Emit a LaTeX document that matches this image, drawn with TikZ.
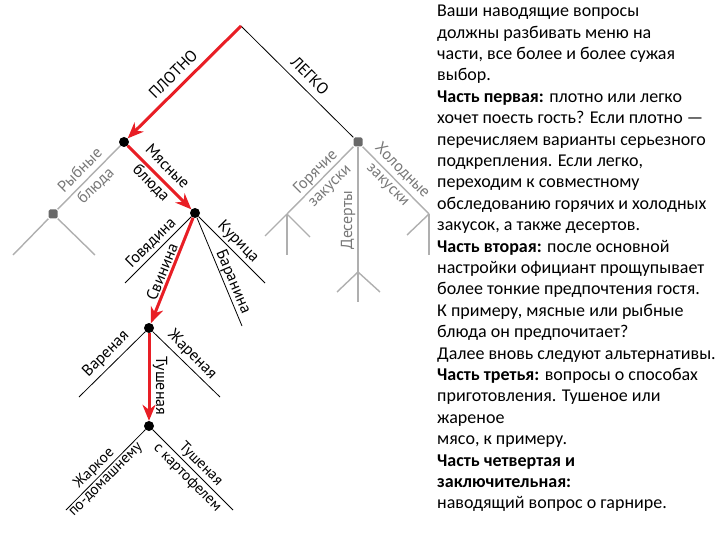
\documentclass[tikz,border=0pt]{standalone}
\usepackage{fontspec}
\setmainfont{Liberation Sans}
\newfontfamily\panelfont{Carlito}
\newfontfamily\labfont{PT Sans}
\usetikzlibrary{arrows.meta}
\definecolor{myred}{RGB}{232,30,37}
\definecolor{lgray}{RGB}{175,175,175}
\definecolor{tgray}{RGB}{120,120,120}
\definecolor{sqgray}{RGB}{105,105,105}
\begin{document}
\begin{tikzpicture}[x=1pt,y=-1pt,
  bdot/.style={circle,fill=black,inner sep=0pt,minimum size=10pt},
  gsq/.style={rectangle,fill=sqgray,inner sep=0pt,minimum size=9pt,rounded corners=1.5pt},
  redarr/.style={draw=myred,line width=3pt,-{Stealth[length=16pt,width=13pt,inset=5pt]}},
  bline/.style={draw=black,line width=0.8pt},
  gline/.style={draw=lgray,line width=1.4pt},
  lab/.style={font=\labfont\fontsize{16}{19}\selectfont,inner sep=0pt,align=center},
  glab/.style={lab,text=tgray},
]
\useasboundingbox (0,0) rectangle (720,540);

% nodes
\coordinate (apex) at (241,26);
\node[bdot] (n1) at (124,142) {};
\node[gsq] (lg) at (358,142) {};
\node[gsq] (fish) at (53,214) {};
\coordinate (fishL) at (13,255);
\coordinate (fishR) at (95,255);
\node[bdot] (n2) at (195,213) {};
\coordinate (gov) at (125,283);
\coordinate (kur) at (265,283);
\coordinate (bar) at (242,326);
\node[bdot] (n3) at (149,328) {};
\coordinate (var) at (79,397);
\coordinate (zhar) at (220,397);
\node[bdot] (n4) at (149,426) {};
\coordinate (zhk) at (66,510);
\coordinate (tsk) at (233,510);
\coordinate (hot) at (287,214);
\coordinate (hotL) at (265,236);
\coordinate (hotR) at (310,237);
\coordinate (hotD) at (287,255);
\coordinate (cold) at (429,214);
\coordinate (coldL) at (407,235);
\coordinate (coldD) at (429,255);
\coordinate (des) at (358,272);
\coordinate (desL) at (337,292);
\coordinate (desR) at (380,292);
\coordinate (desD) at (358,302);

% gray lines
\draw[gline] (n1) -- (fish);
\draw[gline] (fish) -- (fishL);
\draw[gline] (fish) -- (fishR);
\draw[gline] (lg) -- (hot);
\draw[gline] (hot) -- (hotL);
\draw[gline] (hot) -- (hotR);
\draw[gline,line width=2.2pt] (hot) -- (hotD);
\draw[gline] (lg) -- (cold);
\draw[gline] (cold) -- (coldL);
\draw[gline] (cold) -- (coldD);
\draw[gline] (lg) -- (desD);
\draw[gline] (des) -- (desL);
\draw[gline] (des) -- (desR);

% black lines
\draw[bline] (apex) -- (lg);
\draw[bline] (n2) -- (gov);
\draw[bline] (n2) -- (kur);
\draw[bline] (n2) -- (bar);
\draw[bline] (n3) -- (var);
\draw[bline] (n3) -- (zhar);
\draw[bline] (n4) -- (zhk);
\draw[bline] (n4) -- (tsk);

% red path
\draw[redarr] (apex) -- (n1);
\draw[redarr] (n1) -- (n2);
\draw[redarr] (n2) -- (n3);
\draw[redarr] (n3) -- (n4);

% labels
\node[lab,rotate=45] (lPlotno) at (173,74) {ПЛОТНО};
\node[lab,rotate=-45] (lLegko) at (310,76) {ЛЕГКО};
\node[glab,rotate=45,font=\labfont\fontsize{16}{22}\selectfont] (lFish) at (88,178) {Рыбные\\блюда};
\node[lab,rotate=-45,font=\labfont\fontsize{16}{23}\selectfont] (lMeat) at (159,175) {Мясные\\блюда};
\node[lab,rotate=45] (lGov) at (151,243) {Говядина};
\node[lab,rotate=68] (lSvin) at (162,272) {Свинина};
\node[lab,rotate=-45] (lKur) at (238,242) {Курица};
\node[lab,rotate=-67] (lBar) at (233,282) {Баранина};
\node[lab,rotate=45] (lVar) at (106,354) {Вареная};
\node[lab,rotate=-45] (lZhar) at (192,355) {Жареная};
\node[lab,rotate=-90] (lTush) at (160,386) {Тушеная};
\node[lab,rotate=45,font=\labfont\fontsize{15}{16}\selectfont] (lZhk) at (100,474) {Жаркое\\по-домашнему};
\node[lab,rotate=-45,font=\labfont\fontsize{15}{19}\selectfont] (lTsk) at (194,471) {Тушеная\\с картофелем};
\node[glab,rotate=45,font=\labfont\fontsize{16}{20}\selectfont] (lHot) at (323,179) {Горячие\\закуски};
\node[glab,rotate=-45,font=\labfont\fontsize{16}{20}\selectfont] (lCold) at (395,178) {Холодные\\закуски};
\node[glab,rotate=90] (lDes) at (348,220) {Десерты};

% text panel
\node[anchor=north west,inner sep=0pt,align=left,
  font=\panelfont\fontsize{18}{21.4}\selectfont] (panel) at (437,5) {%
Ваши наводящие вопросы\\
должны разбивать меню на\\
части, все более и более сужая\\
выбор.\\
\textbf{Часть первая:} плотно или легко\\
хочет поесть гость? Если плотно —\\
перечисляем варианты серьезного\\
подкрепления. Если легко,\\
переходим к совместному\\
обследованию горячих и холодных\\
закусок, а также десертов.\\
\textbf{Часть вторая:} после основной\\
настройки официант прощупывает\\
более тонкие предпочтения гостя.\\
К примеру, мясные или рыбные\\
блюда он предпочитает?\\
Далее вновь следуют альтернативы.\\
\textbf{Часть третья:} вопросы о способах\\
приготовления. Тушеное или\\
жареное\\
мясо, к примеру.\\
\textbf{Часть четвертая и}\\
\textbf{заключительная:}\\
наводящий вопрос о гарнире.};
\end{tikzpicture}
\end{document}
